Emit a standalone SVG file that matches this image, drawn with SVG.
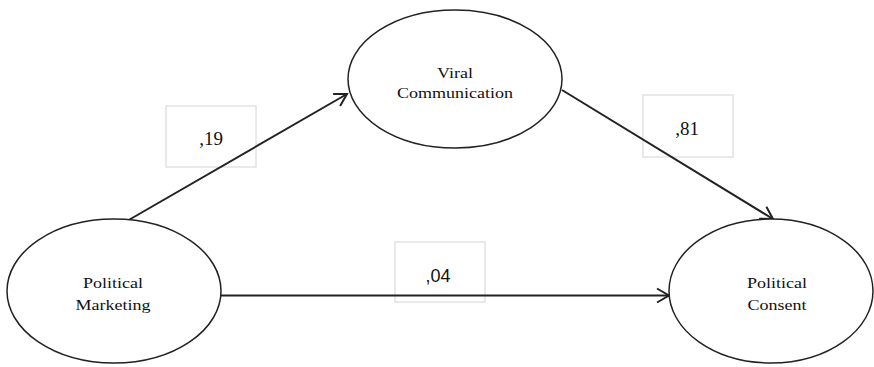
<svg xmlns="http://www.w3.org/2000/svg" width="874" height="367" viewBox="0 0 874 367">
<style>
.node ellipse{fill:#fff;stroke:#222;stroke-width:1.5}
.node text{font-family:"Liberation Serif","Times New Roman",serif;font-size:14.5px;fill:#111;text-anchor:middle}
.lbl rect{fill:#fff;stroke:#d4d4d4;stroke-width:1}
.lbl text{font-family:"Liberation Serif","Times New Roman",serif;font-size:19px;fill:#111;text-anchor:middle}
.conn line{stroke:#222;stroke-width:2;fill:none}
</style>
<defs>
<marker id="arr" markerUnits="userSpaceOnUse" markerWidth="20" markerHeight="20" refX="14" refY="10" orient="auto" viewBox="0 0 20 20">
<path d="M2,3 L14,10 L2,17" fill="none" stroke="#222" stroke-width="2"/>
</marker>
</defs>
<rect width="874" height="367" fill="#fff"/>
<g id="labels">
<g id="lbl-19" class="lbl"><rect x="166" y="106" width="90" height="61"/><text x="211" y="145">,19</text></g>
<g id="lbl-81" class="lbl"><rect x="643" y="95" width="90" height="62"/><text x="687" y="135">,81</text></g>
<g id="lbl-04" class="lbl"><rect x="395" y="242" width="90" height="60"/><text x="438" y="282" style="font-family:'Liberation Sans',Arial,sans-serif;font-size:18px">,04</text></g>
</g>
<g id="connectors" class="conn">
<line x1="127" y1="221" x2="347" y2="94" marker-end="url(#arr)"/>
<line x1="562" y1="90" x2="773" y2="219" marker-end="url(#arr)"/>
<line x1="221" y1="295.5" x2="669" y2="295.5" marker-end="url(#arr)"/>
</g>
<g id="viral" class="node"><ellipse cx="455" cy="79" rx="107" ry="69"/><text x="455" y="78" textLength="36" lengthAdjust="spacingAndGlyphs">Viral</text><text x="455" y="98" textLength="116" lengthAdjust="spacingAndGlyphs">Communication</text></g>
<g id="marketing" class="node"><ellipse cx="114" cy="291" rx="107" ry="72"/><text x="113" y="288" textLength="60" lengthAdjust="spacingAndGlyphs">Political</text><text x="113" y="310" textLength="75" lengthAdjust="spacingAndGlyphs">Marketing</text></g>
<g id="consent" class="node"><ellipse cx="771" cy="291" rx="102" ry="72"/><text x="777" y="288" textLength="60" lengthAdjust="spacingAndGlyphs">Political</text><text x="777" y="310" textLength="59" lengthAdjust="spacingAndGlyphs">Consent</text></g>
</svg>
